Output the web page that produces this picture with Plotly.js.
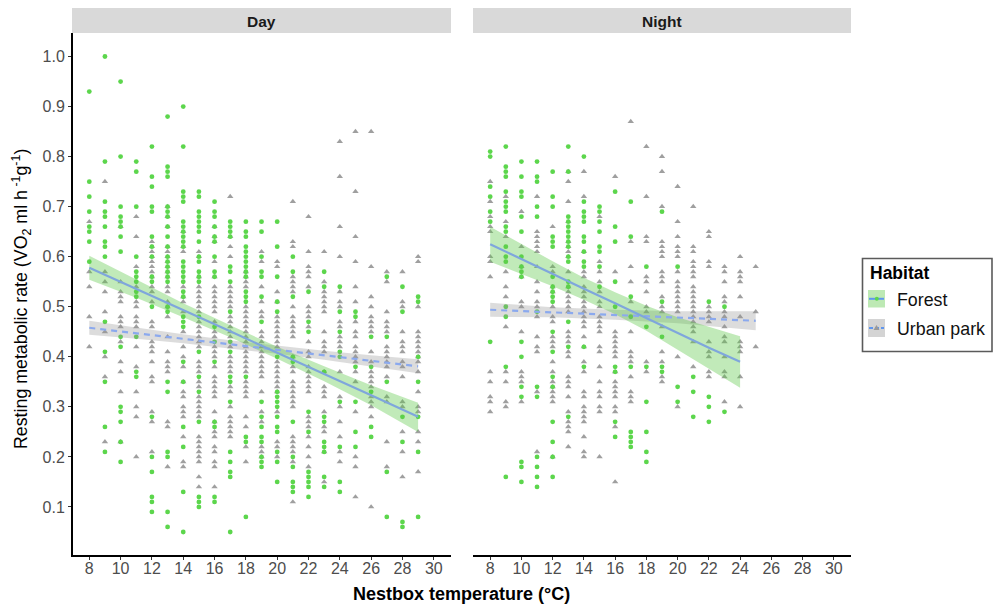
<!DOCTYPE html>
<html><head><meta charset="utf-8">
<script src="https://cdn.plot.ly/plotly-3.0.1.min.js"></script>
<style>html,body{margin:0;padding:0;background:#fff}#c{width:993px;height:606px}</style>
</head><body><div id="c"></div>
<script>
const panels = ["Day", "Night"];
const habitats = ["Forest", "Urban park"];
const xTicks = [8,10,12,14,16,18,20,22,24,26,28,30];
const yTicks = [0.1,0.2,0.3,0.4,0.5,0.6,0.7,0.8,0.9,1.0];

const dayForest = [
[8,[.93,.75,.72,.69,.66,.65,.63,.59]],
[9,[1.0,.79,.71,.69,.68,.66,.63,.62,.60,.47,.41,.35,.26,.21]],
[10,[.95,.80,.70,.68,.67,.66,.64,.61,.44,.42,.30,.29,.27,.23,.19]],
[11,[.79,.77,.70,.60,.57,.56,.55,.53,.52,.44,.37,.36]],
[12,[.82,.76,.74,.70,.69,.64,.62,.60,.56,.55,.50,.28,.20,.17,.12,.11,.09]],
[13,[.88,.78,.77,.76,.70,.69,.68,.66,.64,.62,.60,.59,.58,.57,.56,.55,.50,.49,.35,.33,.21,.20,.09,.06]],
[14,[.90,.82,.73,.72,.71,.67,.66,.65,.64,.63,.62,.59,.58,.57,.56,.55,.53,.52,.48,.47,.46,.39,.35,.26,.22,.13,.05]],
[15,[.73,.72,.69,.68,.67,.66,.65,.63,.60,.59,.57,.56,.55,.48,.41,.36,.33,.27,.12,.11,.10]],
[16,[.71,.69,.68,.66,.64,.63,.60,.57,.56,.46,.43,.39,.27,.26,.12,.11]],
[17,[.67,.66,.65,.64,.58,.57,.55,.49,.43,.41,.36,.35,.31,.21,.19,.17,.16,.05]],
[18,[.67,.65,.64,.62,.61,.60,.59,.58,.57,.56,.53,.52,.51,.36,.24,.23,.08]],
[19,[.67,.65,.60,.57,.56,.52,.47,.31,.28,.26,.24,.23,.20,.19,.18]],
[20,[.67,.62,.56,.51,.49,.40,.33,.32,.31,.30,.28,.26,.25,.21,.19,.15]],
[21,[.60,.57,.52,.40,.39,.27,.20,.18,.15,.14,.13]],
[22,[.53,.47,.45,.29,.25,.17,.16,.15,.14,.12]],
[23,[.57,.54,.37,.28,.27,.23,.22,.21,.16,.14]],
[24,[.54,.49,.45,.41,.40,.31,.22,.15,.13]],
[25,[.49,.48,.38,.31,.25,.22]],
[26,[.44,.38,.33,.26,.24]],
[27,[.56,.44,.35,.17,.08]],
[28,[.54,.49,.28,.23,.07,.06]],
[29,[.52,.51,.40,.35,.28,.21,.08]]
];
const dayUrban = [
[8,[.67,.57,.54,.48,.42]],
[9,[.75,.57,.55,.53,.49,.45,.40,.36,.23]],
[10,[.66,.55,.53,.52,.51,.48,.47,.46,.43,.39,.37,.33,.23]],
[11,[.68,.64,.58,.54,.51,.50,.48,.47,.46,.42,.38,.33,.30,.28,.20]],
[12,[.63,.62,.61,.60,.59,.58,.57,.56,.54,.53,.51,.47,.46,.43,.42,.41,.39,.36,.35,.29,.27,.21]],
[13,[.70,.68,.66,.62,.61,.60,.59,.58,.57,.56,.54,.53,.51,.50,.48,.44,.41,.39,.38,.37,.27,.26,.18]],
[14,[.65,.62,.61,.54,.52,.51,.49,.45,.42,.40,.38,.35,.33,.32,.30,.29,.28,.24,.19,.18]],
[15,[.61,.60,.56,.54,.53,.52,.51,.50,.49,.47,.46,.45,.44,.43,.42,.39,.38,.37,.35,.34,.32,.31,.30,.29,.28,.24,.23,.22,.21,.20,.19,.16,.14]],
[16,[.66,.64,.63,.59,.56,.54,.53,.52,.51,.50,.49,.47,.45,.44,.42,.41,.40,.38,.36,.35,.34,.33,.32,.29,.27,.25,.24,.22,.21,.19,.18,.14]],
[17,[.72,.64,.62,.60,.54,.53,.52,.51,.50,.48,.47,.46,.45,.44,.42,.40,.39,.38,.37,.34,.33,.30,.28,.27,.26,.25,.24]],
[18,[.57,.56,.55,.54,.50,.49,.48,.47,.46,.45,.44,.43,.42,.41,.40,.39,.38,.37,.35,.34,.33,.32,.28,.26,.22,.19]],
[19,[.61,.59,.54,.51,.49,.48,.45,.44,.43,.42,.41,.40,.39,.38,.37,.36,.33,.29,.27,.22,.21,.20]],
[20,[.59,.58,.53,.51,.48,.47,.46,.45,.44,.43,.42,.39,.38,.37,.36,.35,.34,.33,.29,.23,.22,.20]],
[21,[.71,.63,.62,.56,.55,.54,.53,.50,.48,.47,.46,.45,.44,.40,.38,.37,.35,.34,.33,.32,.31,.30,.24,.23,.22,.21,.19,.11]],
[22,[.68,.61,.58,.57,.56,.54,.50,.49,.48,.46,.43,.41,.40,.38,.37,.36,.35,.34,.33,.28,.27,.26,.24,.22,.20,.18]],
[23,[.61,.55,.53,.52,.51,.50,.49,.45,.43,.42,.41,.37,.34,.33,.32,.29,.26,.25,.21,.15]],
[24,[.83,.76,.66,.60,.53,.51,.50,.47,.46,.44,.43,.42,.37,.32,.30,.27,.24,.21,.19]],
[25,[.85,.73,.64,.59,.54,.51,.47,.45,.44,.42,.41,.40,.39,.37,.35,.29,.20,.18,.12]],
[26,[.85,.58,.52,.50,.48,.47,.46,.45,.41,.39,.37,.36,.35,.34,.32,.31,.30,.28,.10]],
[27,[.57,.55,.49,.47,.46,.45,.42,.41,.40,.39,.38,.36,.32,.31,.23,.18]],
[28,[.57,.51,.50,.45,.43,.42,.41,.39,.38,.36,.31,.30,.25,.21,.16]],
[29,[.60,.59,.50,.45,.44,.43,.42,.41,.40,.39,.37,.33,.30,.29,.25,.23,.17]]
];
const nightForest = [
[8,[.81,.80,.74,.72,.69,.67,.43]],
[9,[.82,.78,.77,.76,.73,.71,.70,.69,.66,.65,.62,.60,.59,.50,.48,.38,.16]],
[10,[.79,.76,.73,.72,.68,.65,.60,.58,.57,.56,.43,.40,.34,.32,.19,.18,.15]],
[11,[.79,.76,.75,.70,.68,.49,.34,.32,.20,.18,.16,.14]],
[12,[.77,.72,.70,.64,.63,.62,.56,.54,.53,.52,.51,.45,.41,.36,.34,.27,.23,.20,.16]],
[13,[.82,.77,.68,.67,.66,.65,.64,.63,.62,.60,.59,.55,.54,.47,.42,.28]],
[14,[.80,.71,.69,.68,.67,.64,.63,.61,.59,.58,.42,.38]],
[15,[.70,.69,.67,.65,.62,.61,.58,.54]],
[16,[.73,.66,.63,.55,.50,.38,.37,.27,.24]],
[17,[.71,.64,.52,.48,.38,.25,.24,.23,.22]],
[18,[.58,.46,.38,.31,.25,.21,.19]],
[19,[.69,.51,.44,.38,.37]],
[20,[.58,.34,.31]],
[21,[.36,.33,.28]],
[22,[.51,.32,.30,.27]],
[23,[.50,.29]]
];
const nightUrban = [
[8,[.75,.71,.68,.66,.65,.60,.59,.56,.37,.35,.32,.31,.29]],
[9,[.72,.67,.64,.57,.54,.52,.46,.37,.35,.31,.30]],
[10,[.69,.62,.58,.56,.51,.50,.45,.37,.36,.35,.31]],
[11,[.72,.65,.64,.63,.62,.61,.58,.55,.53,.51,.50,.48,.44,.42,.41,.33,.21]],
[12,[.66,.58,.57,.54,.53,.50,.48,.47,.44,.43,.42,.39,.37,.35,.34,.33,.32,.31,.20]],
[13,[.77,.75,.71,.67,.63,.62,.61,.60,.57,.54,.53,.52,.51,.50,.49,.45,.44,.43,.41,.40,.36,.35,.34,.32,.29,.27,.26,.25,.22]],
[14,[.77,.72,.61,.57,.56,.54,.53,.52,.51,.50,.49,.48,.47,.46,.44,.42,.39,.37,.33,.32,.30,.29,.28,.27,.24,.21,.20]],
[15,[.68,.59,.57,.55,.53,.51,.50,.48,.47,.46,.45,.42,.41,.38,.35,.33,.32,.30,.29,.20]],
[16,[.76,.57,.45,.44,.43,.42,.41,.40,.37,.35,.34,.33,.32,.30,.29,.26,.15]],
[17,[.87,.63,.58,.55,.51,.45,.41,.40,.39,.36,.33,.32,.31]],
[18,[.82,.72,.64,.63,.56,.55,.53,.50,.49,.39,.37]],
[19,[.80,.77,.70,.63,.62,.61,.60,.57,.56,.55,.52,.50,.49,.46,.41,.39,.36,.35]],
[20,[.74,.67,.64,.62,.61,.60,.57,.55,.54,.53,.52,.51,.50,.49,.40,.30]],
[21,[.70,.62,.61,.59,.58,.57,.56,.54,.53,.52,.51,.50,.49,.48,.47,.46,.45,.43,.38]],
[22,[.65,.64,.59,.58,.50,.49,.48,.47,.43,.41,.40,.37,.36]],
[23,[.58,.57,.55,.52,.51,.49,.48,.46,.44,.43,.40,.37,.36,.31]],
[24,[.60,.57,.56,.55,.52,.48,.43,.42,.41,.36,.30]],
[25,[.58,.49,.42]]
];

const dayFitX = [8,11,14,17,20,23,26,29];
const dayForestFit = [.578,.536,.493,.451,.408,.366,.323,.280];
const dayForestHi  = [.602,.554,.507,.463,.420,.381,.343,.308];
const dayForestLo  = [.554,.518,.479,.439,.396,.351,.303,.250];
const dayUrbanFit  = [.458,.447,.436,.425,.414,.403,.392,.381];
const dayUrbanHi   = [.472,.458,.445,.433,.422,.412,.403,.395];
const dayUrbanLo   = [.444,.436,.427,.417,.406,.394,.381,.367];

const nightForestX   = [8,10,12,14,16,18,20,22,24];
const nightForestFit = [.625,.595,.566,.536,.507,.477,.447,.418,.390];
const nightForestHi  = [.660,.625,.591,.558,.529,.502,.479,.460,.441];
const nightForestLo  = [.590,.565,.541,.514,.485,.452,.415,.376,.338];
const nightUrbanX    = [8,12,16,20,25];
const nightUrbanFit  = [.494,.489,.484,.479,.472];
const nightUrbanHi   = [.508,.499,.494,.491,.491];
const nightUrbanLo   = [.480,.479,.474,.467,.453];

const GREEN = "#5cd64c", GRAY = "#9a9a9a", BLUE = "#7fa6dc", DASHBLUE = "#8ba9ee";
const flatX = r => r.flatMap(([x, ys]) => ys.map(() => x));
const flatY = r => r.flatMap(([x, ys]) => ys);

function pts(rows, name, xa, ya, urban) {
  return {type:"scatter", mode:"markers", name, x:flatX(rows), y:flatY(rows), xaxis:xa, yaxis:ya,
    showlegend:false, hoverinfo:"skip", cliponaxis:false,
    marker: urban ? {symbol:"triangle-up", size:5.6, color:GRAY, opacity:.95, line:{width:0}}
                  : {symbol:"circle", size:4.8, color:GREEN, line:{width:0}}};
}
function band(x, hi, lo, color, xa, ya) {
  return {type:"scatter", mode:"lines", x:x.concat(x.slice().reverse()), y:hi.concat(lo.slice().reverse()),
    fill:"toself", fillcolor:color, line:{width:0}, xaxis:xa, yaxis:ya, showlegend:false, hoverinfo:"skip"};
}
function fit(x, y, color, dash, xa, ya) {
  return {type:"scatter", mode:"lines", x, y, xaxis:xa, yaxis:ya, showlegend:false, hoverinfo:"skip",
    line:{color, width:2.2, dash: dash ? "6px,5px" : "solid"}};
}
const RG = "rgba(92,200,72,.38)", RK = "rgba(150,150,150,.33)";
const data = [
  pts(dayUrban, habitats[1], "x", "y", true),
  pts(dayForest, habitats[0], "x", "y", false),
  band(dayFitX, dayUrbanHi, dayUrbanLo, RK, "x", "y"),
  band(dayFitX, dayForestHi, dayForestLo, RG, "x", "y"),
  fit(dayFitX, dayUrbanFit, DASHBLUE, true, "x", "y"),
  fit(dayFitX, dayForestFit, BLUE, false, "x", "y"),
  pts(nightUrban, habitats[1], "x2", "y2", true),
  pts(nightForest, habitats[0], "x2", "y2", false),
  band(nightUrbanX, nightUrbanHi, nightUrbanLo, RK, "x2", "y2"),
  band(nightForestX, nightForestHi, nightForestLo, RG, "x2", "y2"),
  fit(nightUrbanX, nightUrbanFit, DASHBLUE, true, "x2", "y2"),
  fit(nightForestX, nightForestFit, BLUE, false, "x2", "y2")
];

const W = 993, H = 606;
const px = v => v / W, py = v => 1 - v / H;
const FONT = "Liberation Sans, Arial, sans-serif";
const xAxisBase = {tickvals:xTicks, ticktext:xTicks.map(String), ticks:"outside", ticklen:3, tickwidth:1,
  tickcolor:"#333", tickfont:{size:16, color:"#4d4d4d", family:FONT}, showgrid:false, zeroline:false,
  showline:true, linecolor:"#000", linewidth:2, ticklabelstandoff:-5};
const rect = (x0,y0,x1,y1,fill,lineC,lw) => ({type:"rect", xref:"paper", yref:"paper", x0:px(x0), x1:px(x1), y0:py(y1), y1:py(y0),
  fillcolor:fill, line:{color:lineC||fill, width:lw||0}, layer:"below"});
const seg = (x0,x1,y,c,dash) => ({type:"line", xref:"paper", yref:"paper", x0:px(x0), x1:px(x1), y0:py(y), y1:py(y), line:{color:c,width:2,dash:dash?"4px,2px":"solid"}, layer:"above"});
const note = (text,x,y,size,color,xanchor,extra) => Object.assign({text, xref:"paper", yref:"paper", x:px(x), y:py(y), xanchor, yanchor:"middle", showarrow:false, font:{size,color,family:FONT}}, extra||{});

const layout = {
  width:W, height:H, margin:{l:0,r:0,t:0,b:0}, paper_bgcolor:"#fff", plot_bgcolor:"rgba(0,0,0,0)",
  showlegend:false, font:{family:FONT},
  xaxis:Object.assign({}, xAxisBase, {range:[6.96,31.1], domain:[px(73),px(451)], anchor:"y"}),
  xaxis2:Object.assign({}, xAxisBase, {range:[6.9,31.1], domain:[px(473),px(851)], anchor:"y2"}),
  yaxis:{domain:[py(555),py(33)], range:[0.004,1.047], anchor:"x", tickvals:yTicks, ticktext:yTicks.map(v=>v.toFixed(1)),
    ticks:"outside", ticklen:3, tickwidth:1, tickcolor:"#333", tickfont:{size:16,color:"#4d4d4d",family:FONT},
    showgrid:false, zeroline:false, showline:true, linecolor:"#000", linewidth:2},
  yaxis2:{domain:[py(555),py(33)], range:[0.004,1.047], anchor:"x2", showticklabels:false, ticks:"", showgrid:false, zeroline:false, showline:false},
  shapes:[
    rect(72,8,451,33,"#d9d9d9"),
    rect(473,8,851,33,"#d9d9d9"),
    rect(862.5,258.5,992,351.5,"#fff","#5a5a5a",1.6),
    rect(868,290,885,307.5,"#bde9b4"),
    rect(868,319,885,337,"#d4d4d4"),
    seg(869,884,298.8,"#5f96ee",false),
    seg(869,884,328,"#5f96ee",true),
    {type:"circle", xref:"paper", yref:"paper", x0:px(874.8), x1:px(878.8), y0:py(300.8), y1:py(296.8), fillcolor:GREEN, line:{width:0}},
    {type:"path", xref:"paper", yref:"paper", path:`M ${px(876.5)} ${py(325)} L ${px(879.5)} ${py(330)} L ${px(873.5)} ${py(330)} Z`, fillcolor:GRAY, line:{width:0}}
  ],
  annotations:[
    note("<b>"+panels[0]+"</b>",261.5,21,15.5,"#1a1a1a","center"),
    note("<b>"+panels[1]+"</b>",662,21,15.5,"#1a1a1a","center"),
    note("<b>Nestbox temperature (°C)</b>",461.5,594,18,"#000","center"),
    note("Resting metabolic rate (VO<sub>2</sub> ml h<sup> -1</sup>g<sup>-1</sup>)",22,299,17.8,"#000","center",{textangle:-90}),
    note("<b>Habitat</b>",868,273,17.5,"#000","left"),
    note(habitats[0],894.5,299.5,17.8,"#111","left"),
    note(habitats[1],894.5,328.5,17.8,"#111","left")
  ]
};
Plotly.newPlot("c", data, layout, {displayModeBar:false, staticPlot:true});
</script></body></html>
